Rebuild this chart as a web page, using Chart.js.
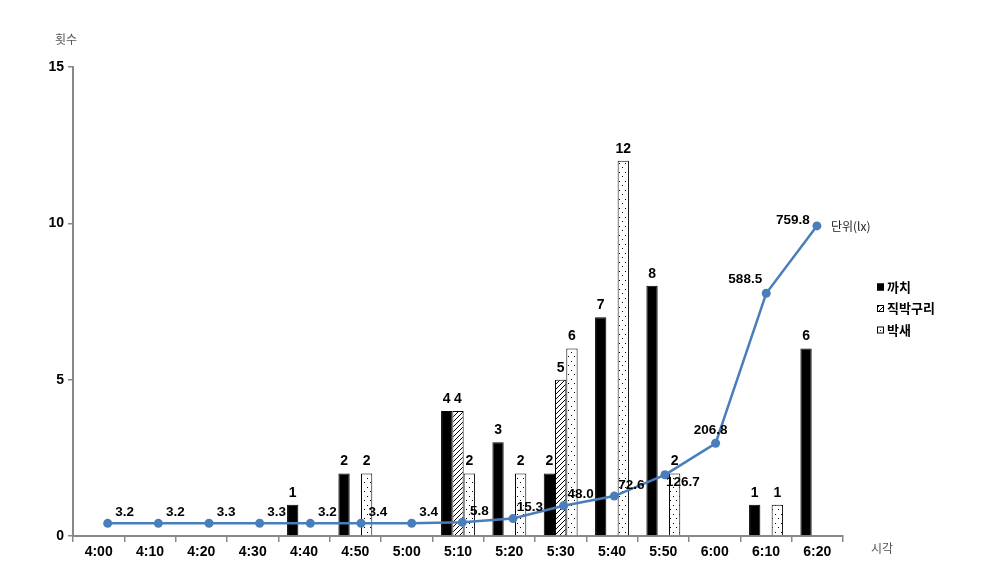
<!DOCTYPE html>
<html>
<head>
<meta charset="utf-8">
<script src="https://cdn.jsdelivr.net/npm/chart.js@4.4.0/dist/chart.umd.min.js"></script>
<style>
  html, body { margin: 0; background: #fff; }
  #wrap { position: relative; width: 983px; height: 576px; }
  #wrap canvas { position: absolute; left: 0; top: 0; }
</style>
</head>
<body>
<div id="wrap">
  <canvas id="bars" width="983" height="576"></canvas>
  <canvas id="line" width="983" height="576"></canvas>
</div>
<script>
const times   = ['4:00','4:10','4:20','4:30','4:40','4:50','5:00','5:10','5:20','5:30','5:40','5:50','6:00','6:10','6:20'];
const magpie  = [0, 0, 0, 0, 1, 2, 0, 4, 3, 2, 7, 8, 0, 1, 6];   // 까치
const bulbul  = [0, 0, 0, 0, 0, 0, 0, 4, 0, 5, 0, 0, 0, 0, 0];   // 직박구리
const tit     = [0, 0, 0, 0, 0, 2, 0, 2, 2, 6, 12, 2, 0, 1, 0];  // 박새
const lux     = [3.2, 3.2, 3.3, 3.3, 3.2, 3.4, 3.4, 5.8, 15.3, 48.0, 72.6, 126.7, 206.8, 588.5, 759.8];
const yTicks  = [0, 5, 10, 15];
const seriesNames = ['까치', '직박구리', '박새'];

const NUM_FONT = "'Liberation Sans Narrow', 'Liberation Sans', Arial, sans-serif";
const KR_FONT = "'Noto Sans CJK KR', 'DejaVu Sans', sans-serif";
const LINE_BLUE = '#4a7ebb';

// fill patterns for the two white bars
function hatchPattern() {
    const s = 5, cv = document.createElement('canvas');
    cv.width = s; cv.height = s;
    const g = cv.getContext('2d');
    g.fillStyle = '#fff'; g.fillRect(0, 0, s, s);
    g.strokeStyle = '#000'; g.lineWidth = 1;
    g.beginPath();
    g.moveTo(-1, s + 1); g.lineTo(s + 1, -1);
    g.moveTo(-2, 2); g.lineTo(2, -2);
    g.moveTo(s - 2, s + 2); g.lineTo(s + 2, s - 2);
    g.stroke();
    return document.getElementById('bars').getContext('2d').createPattern(cv, 'repeat');
}
function dotPattern() {
    const cv = document.createElement('canvas');
    cv.width = 6; cv.height = 9;
    const g = cv.getContext('2d');
    g.fillStyle = '#fff'; g.fillRect(0, 0, 6, 9);
    g.fillStyle = '#000';
    g.fillRect(1, 1, 1, 1);
    g.fillRect(4, 5, 1, 1);
    return document.getElementById('bars').getContext('2d').createPattern(cv, 'repeat');
}
const hatch = hatchPattern();
const dots = dotPattern();

const barExtras = {
    id: 'barExtras',
    afterDatasetsDraw(chart) {
        const ctx = chart.ctx;
        ctx.save();
        ctx.fillStyle = '#000';
        ctx.font = "bold 14px " + NUM_FONT;
        ctx.textAlign = 'center';
        ctx.textBaseline = 'bottom';
        chart.data.datasets.forEach((ds, di) => {
            chart.getDatasetMeta(di).data.forEach((el, i) => {
                if (ds.data[i] > 0) ctx.fillText(String(ds.data[i]), el.x, el.y - 5);
            });
        });
        ctx.restore();
    },
    afterDraw(chart) {
        const ctx = chart.ctx;
        const a = chart.chartArea;
        ctx.save();
        // axis titles
        ctx.fillStyle = '#555';
        ctx.font = "12px " + KR_FONT;
        ctx.textAlign = 'center';
        ctx.textBaseline = 'middle';
        ctx.fillText('횟수', 66, 39);
        ctx.fillText('시각', a.right + 39, a.bottom + 12);
        // legend
        const fills = ['#000', hatch, '#fff'];
        ctx.font = "bold 13px " + KR_FONT;
        ctx.textAlign = 'left';
        seriesNames.forEach((name, i) => {
            const y = 287 + i * 21.5;
            ctx.fillStyle = fills[i];
            ctx.fillRect(877, y - 3.5, 7, 7);
            ctx.strokeStyle = '#000';
            ctx.lineWidth = 1;
            ctx.strokeRect(877.5, y - 3, 6, 6);
            if (i === 2) { ctx.fillStyle = '#000'; ctx.fillRect(880, y, 1, 1); }
            ctx.fillStyle = '#000';
            ctx.fillText(name, 887, y);
        });
        ctx.restore();
    }
};

new Chart(document.getElementById('bars'), {
    type: 'bar',
    data: {
        labels: times,
        datasets: [
            { label: seriesNames[0], data: magpie, backgroundColor: '#000', borderColor: '#000', borderWidth: 1 },
            { label: seriesNames[1], data: bulbul, backgroundColor: hatch, borderColor: '#000', borderWidth: 1 },
            { label: seriesNames[2], data: tit, backgroundColor: dots, borderColor: '#000', borderWidth: 1 }
        ]
    },
    options: {
        responsive: false,
        animation: false,
        layout: { padding: { left: 0, right: 140, top: 67, bottom: 0 } },
        categoryPercentage: 0.66,
        barPercentage: 1.0,
        plugins: { legend: { display: false }, tooltip: { enabled: false } },
        scales: {
            x: {
                offset: true,
                grid: { offset: true, drawOnChartArea: false, drawTicks: true, tickLength: 6, color: '#888', lineWidth: 1.5 },
                border: { color: '#888', width: 2 },
                ticks: { color: '#000', font: { family: NUM_FONT, size: 14, weight: 'bold' }, padding: 2, maxRotation: 0, autoSkip: false },
                afterFit(s) { s.height = 40; }
            },
            y: {
                min: 0, max: 15,
                afterBuildTicks(s) { s.ticks = yTicks.map(v => ({ value: v })); },
                grid: { drawOnChartArea: false, drawTicks: true, tickLength: 5, color: '#888', lineWidth: 1.5 },
                border: { color: '#888', width: 2 },
                ticks: { color: '#000', font: { family: NUM_FONT, size: 14, weight: 'bold' }, padding: 4 },
                afterFit(s) { s.width = 73; }
            }
        }
    },
    plugins: [barExtras]
});

// light intensity line, on its own hidden axes over the same plot area
const lineExtras = {
    id: 'lineExtras',
    afterDatasetsDraw(chart) {
        const ctx = chart.ctx;
        const pts = chart.getDatasetMeta(0).data;
        ctx.save();
        ctx.fillStyle = '#000';
        ctx.font = "bold 13.5px " + NUM_FONT;
        ctx.textAlign = 'center';
        ctx.textBaseline = 'middle';
        pts.forEach((pt, i) => {
            let dx = 17, dy = -11;
            if (i === 11) { dx = 18; dy = 7; }
            else if (i === 12) { dx = -5; dy = -13; }
            else if (i === 13) { dx = -21; dy = -14; }
            else if (i === 14) { dx = -24; dy = -6; }
            ctx.fillText(lux[i].toFixed(1), pt.x + dx, pt.y + dy);
        });
        const last = pts[pts.length - 1];
        ctx.font = "12px " + KR_FONT;
        ctx.textAlign = 'left';
        ctx.fillStyle = '#222';
        ctx.fillText('단위(lx)', last.x + 14, last.y + 1);
        ctx.restore();
    }
};

new Chart(document.getElementById('line'), {
    type: 'line',
    data: {
        datasets: [{
            label: 'lux',
            data: lux.map((v, i) => ({ x: i, y: v })),
            borderColor: LINE_BLUE, backgroundColor: LINE_BLUE,
            borderWidth: 2.5, pointRadius: 4.5, pointBackgroundColor: LINE_BLUE,
            pointBorderWidth: 0, tension: 0
        }]
    },
    options: {
        responsive: false,
        animation: false,
        layout: { padding: { left: 73, right: 140, top: 67, bottom: 40 } },
        plugins: { legend: { display: false }, tooltip: { enabled: false } },
        scales: {
            x: { type: 'linear', display: false, min: -0.685, max: 14.515 },
            y: { type: 'linear', display: false, min: -29, max: 1164 }
        }
    },
    plugins: [lineExtras]
});
</script>
</body>
</html>
